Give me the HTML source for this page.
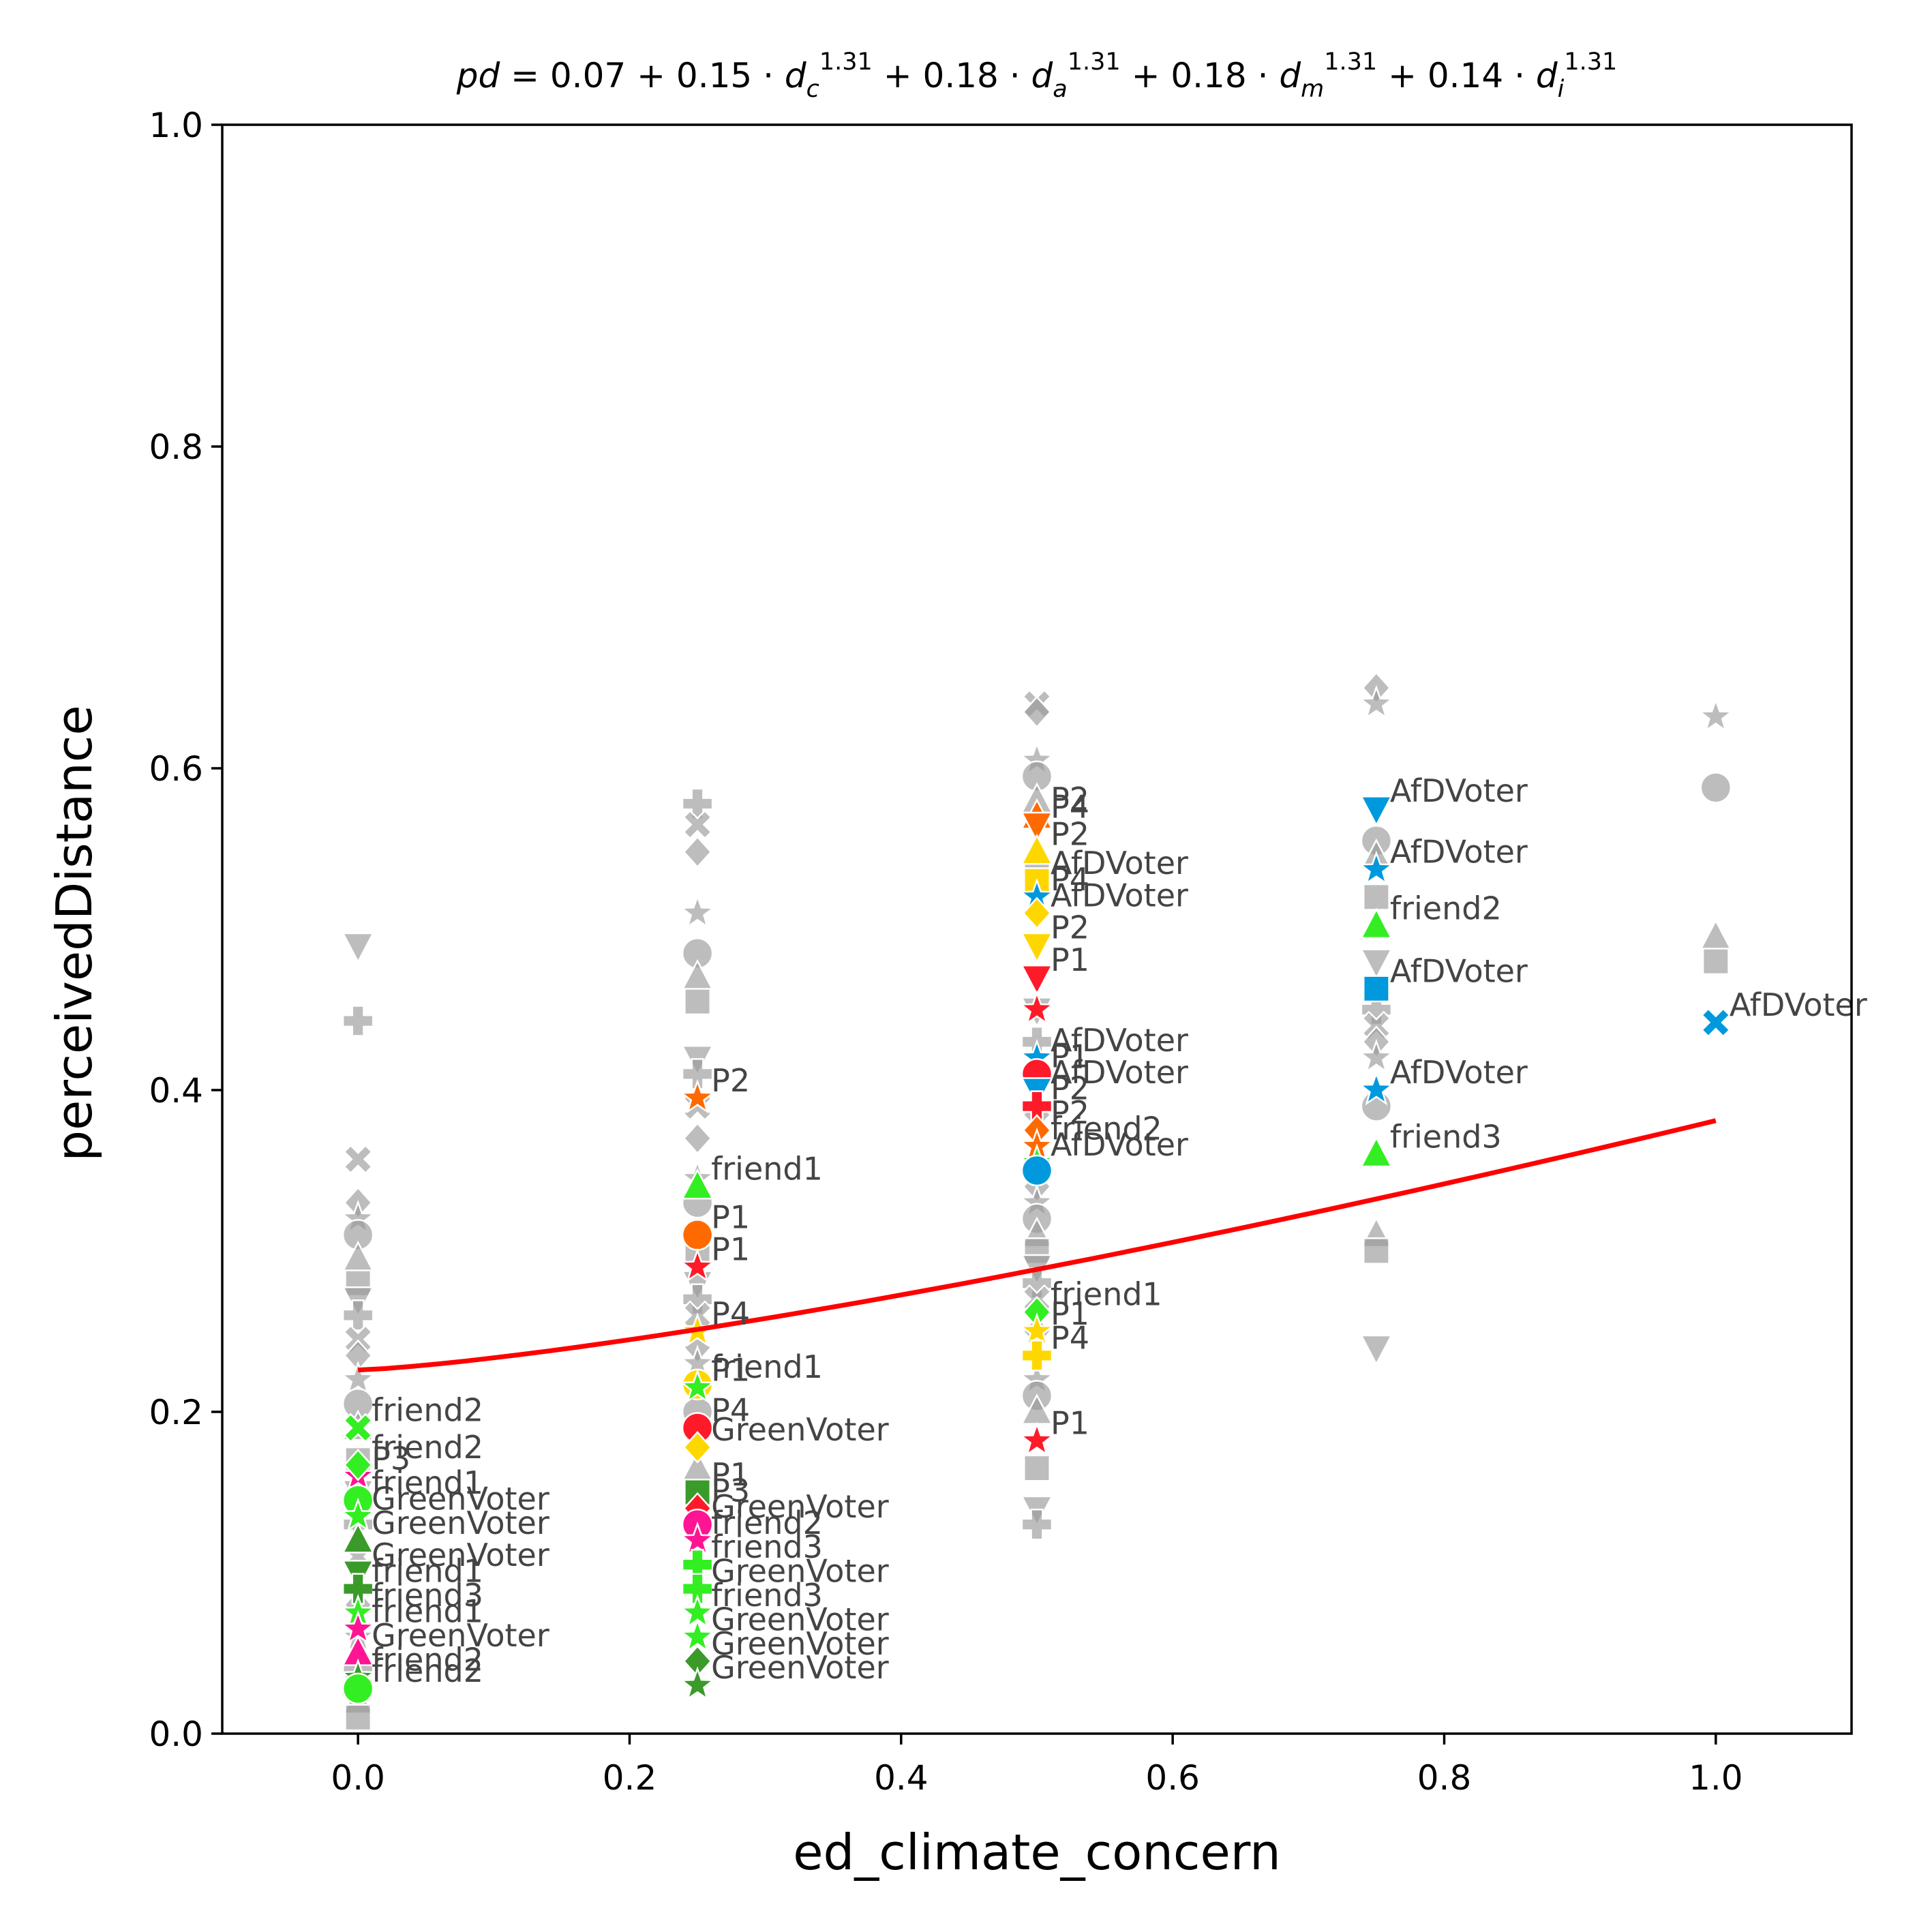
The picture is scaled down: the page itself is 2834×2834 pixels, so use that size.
<!DOCTYPE html>
<html><head><meta charset="utf-8"><style>
html,body{margin:0;padding:0;background:#fff}
svg{display:block;font-family:"DejaVu Sans","Liberation Sans",sans-serif}
</style></head><body>
<svg id="chart" width="2834" height="2834" viewBox="0 0 2834 2834" xmlns="http://www.w3.org/2000/svg">
<rect width="2834" height="2834" fill="#fff"/>
<g id="grayLayer"></g>
<g id="colorLayer"></g>
<g id="lineLayer"></g>
<g id="labelLayer"></g>
<rect x="326" y="183" width="2390" height="2360" fill="none" stroke="#000" stroke-width="3.5"/>
<g id="axisLayer"></g>
<text x="1521" y="128" font-size="50" text-anchor="middle"><tspan font-style="italic">pd</tspan> = 0.07 + 0.15 · <tspan font-style="italic">d</tspan><tspan font-size="35" dy="14" font-style="italic">c</tspan><tspan font-size="35" dy="-40">1.31</tspan><tspan dy="26"> + 0.18 · </tspan><tspan font-style="italic">d</tspan><tspan font-size="35" dy="14" font-style="italic">a</tspan><tspan font-size="35" dy="-40">1.31</tspan><tspan dy="26"> + 0.18 · </tspan><tspan font-style="italic">d</tspan><tspan font-size="35" dy="14" font-style="italic">m</tspan><tspan font-size="35" dy="-40">1.31</tspan><tspan dy="26"> + 0.14 · </tspan><tspan font-style="italic">d</tspan><tspan font-size="35" dy="14" font-style="italic">i</tspan><tspan font-size="35" dy="-40">1.31</tspan></text>
<text x="1521" y="2742" font-size="72" text-anchor="middle">ed_climate_concern</text>
<text x="0" y="0" font-size="72" text-anchor="middle" transform="translate(134,1369) rotate(-90)">perceivedDistance</text>
</svg>
<script>
const xTicks=[0.0,0.2,0.4,0.6,0.8,1.0];
const yTicks=[0.0,0.2,0.4,0.6,0.8,1.0];
const grayX0=[0.49,0.443,0.357,0.33,0.32,0.31,0.295,0.28,0.27,0.26,0.245,0.235,0.22,0.205,0.19,0.17,0.15,0.13,0.11,0.08,0.06,0.04,0.02,0.01];
const grayX25=[0.578,0.565,0.548,0.51,0.485,0.47,0.455,0.42,0.41,0.39,0.37,0.345,0.33,0.31,0.3,0.28,0.27,0.26,0.24,0.23,0.2,0.165];
const grayX50=[0.64,0.635,0.605,0.595,0.58,0.535,0.45,0.43,0.38,0.34,0.33,0.32,0.31,0.30,0.29,0.28,0.27,0.25,0.22,0.21,0.2,0.165,0.14,0.13];
const grayX75=[0.65,0.64,0.555,0.545,0.52,0.48,0.45,0.44,0.43,0.42,0.39,0.31,0.30,0.24];
const grayX100=[0.632,0.588,0.495,0.48];
const colX=[0,0,0,0,0,0,0,0,0,0,0,0,0,
0.25,0.25,0.25,0.25,0.25,0.25,0.25,0.25,0.25,0.25,0.25,0.25,0.25,0.25,0.25,0.25,0.25,0.25,0.25,
0.5,0.5,0.5,0.5,0.5,0.5,0.5,0.5,0.5,0.5,0.5,0.5,0.5,0.5,0.5,0.5,0.5,0.5,0.5,0.5,0.5,
0.75,0.75,0.75,0.75,0.75,0.75,1.0];
const colY=[0.19,0.16,0.167,0.145,0.135,0.12,0.10,0.09,0.075,0.065,0.05,0.035,0.028,
0.395,0.34,0.31,0.29,0.25,0.217,0.215,0.19,0.178,0.15,0.14,0.13,0.12,0.105,0.09,0.075,0.06,0.045,0.03,
0.57,0.565,0.548,0.53,0.52,0.51,0.49,0.47,0.45,0.42,0.41,0.40,0.39,0.375,0.365,0.355,0.35,0.262,0.25,0.235,0.182,
0.575,0.537,0.502,0.463,0.40,0.36,0.442];
const colC=['#33ee22','#ff1493','#33ee22','#33ee22','#33ee22','#3a9a2a','#3a9a2a','#3a9a2a','#33ee22','#ff1493','#ff1493','#3a9a2a','#33ee22',
'#ff6a00','#33ee22','#ff6a00','#ff1a2a','#ffd700','#ffd700','#33ee22','#ff1a2a','#ffd700','#3a9a2a','#ff1a2a','#ff1493','#ff1493','#33ee22','#33ee22','#33ee22','#33ee22','#3a9a2a','#3a9a2a',
'#ff6a00','#ff6a00','#ffd700','#ffd700','#0099dd','#ffd700','#ffd700','#ff1a2a','#ff1a2a','#0099dd','#ff1a2a','#0099dd','#ff1a2a','#ff6a00','#ff6a00','#33ee22','#0099dd','#33ee22','#ffd700','#ffd700','#ff1a2a',
'#0099dd','#0099dd','#33ee22','#0099dd','#0099dd','#33ee22','#0099dd'];
const colM=['X','*','D','o','*','^','v','P','*','*','^','*','o',
'*','^','o','*','*','o','*','o','D','s','D','o','*','P','P','*','*','D','*',
'^','v','^','s','*','D','v','v','*','*','o','v','P','D','*','*','o','D','*','P','*',
'v','*','^','s','*','^','X'];
const colL=['friend2','P3','friend2','friend1','GreenVoter','GreenVoter','GreenVoter','friend1','friend3','friend1','GreenVoter','friend2','friend2',
'P2','friend1','P1','P1','P4','friend1','P1','P4','GreenVoter','P1','P3','GreenVoter','friend2','friend3','GreenVoter','friend3','GreenVoter','GreenVoter','GreenVoter',
'P2','P4','P2','AfDVoter','P4','AfDVoter','P2','P1','','AfDVoter','P1','AfDVoter','P2','P2','friend2','AfDVoter','','friend1','P1','P4','P1',
'AfDVoter','AfDVoter','friend2','AfDVoter','AfDVoter','friend3','AfDVoter'];
const fitA=0.226, fitB=0.155, fitP=1.31;

const NS='http://www.w3.org/2000/svg';
const X0=326,X1=2716,Y0=2543,Y1=183;
function sx(v){return X0+(v+0.1)/1.2*(X1-X0);}
function sy(v){return Y0-v*(Y0-Y1);}
function mk(t,a){const e=document.createElementNS(NS,t);for(const k in a)e.setAttribute(k,a[k]);return e;}
function shape(m,x,y,r){
  if(m==='o')return mk('circle',{cx:x,cy:y,r:r});
  if(m==='s')return mk('rect',{x:x-r*0.85,y:y-r*0.85,width:r*1.7,height:r*1.7});
  let p=[];
  if(m==='^')p=[[0,-1.1],[1,0.8],[-1,0.8]];
  else if(m==='v')p=[[0,1.1],[1,-0.8],[-1,-0.8]];
  else if(m==='D')p=[[0,-1],[0.9,0],[0,1],[-0.9,0]];
  else if(m==='*'){for(let i=0;i<10;i++){const a=-Math.PI/2+i*Math.PI/5,rr=i%2?0.45:1.1;p.push([rr*Math.cos(a),rr*Math.sin(a)]);}}
  else if(m==='P'){const w=0.38;p=[[-w,-1],[w,-1],[w,-w],[1,-w],[1,w],[w,w],[w,1],[-w,1],[-w,w],[-1,w],[-1,-w],[-w,-w]];}
  else if(m==='X'){const w=0.3;for(let i=0;i<4;i++){const a=i*Math.PI/2+Math.PI/4;const c=Math.cos(a),s=Math.sin(a);const pts=[[1,-w],[1,w]];pts.forEach(q=>p.push([q[0]*c-q[1]*s,q[0]*s+q[1]*c]));const b=a+Math.PI/4;p.push([w*1.41*Math.cos(b),w*1.41*Math.sin(b)]);}}
  return mk('polygon',{points:p.map(q=>(x+q[0]*r).toFixed(1)+','+(y+q[1]*r).toFixed(1)).join(' ')});
}
const gm=['v','P','X','D','*','o','^','s'];
const gl=document.getElementById('grayLayer');
[[0,grayX0],[0.25,grayX25],[0.5,grayX50],[0.75,grayX75],[1.0,grayX100]].forEach(([xv,arr])=>{
  arr.forEach((yv,i)=>{
    const s=shape(gm[(i+Math.round(xv*4))%gm.length],sx(xv),sy(yv),22);
    s.setAttribute('fill','#999');s.setAttribute('fill-opacity','0.65');s.setAttribute('stroke','#fff');s.setAttribute('stroke-width','2.5');
    
    
    gl.appendChild(s);
  });
});
const cl=document.getElementById('colorLayer'),ll=document.getElementById('labelLayer');
colX.forEach((xv,i)=>{
  const x=sx(xv),y=sy(colY[i]);
  const s=shape(colM[i],x,y,22);
  s.setAttribute('fill',colC[i]);s.setAttribute('stroke','#fff');s.setAttribute('stroke-width','2.5');
  
  
  cl.appendChild(s);
  if(colL[i]){
    const t=mk('text',{x:x+20,y:y-10,'font-size':'46',fill:'#444'});
    t.textContent=colL[i];
    
    
    ll.appendChild(t);
  }
});
let d='';
for(let k=0;k<=50;k++){const xv=k/50;d+=(k?'L':'M')+sx(xv).toFixed(1)+','+sy(fitA+fitB*Math.pow(xv,fitP)).toFixed(1);}
const fl=mk('path',{d:d,stroke:'#ff0000','stroke-width':'7',fill:'none'});


document.getElementById('lineLayer').appendChild(fl);
const al=document.getElementById('axisLayer');
xTicks.forEach(v=>{
  const x=sx(v);
  const l=mk('line',{x1:x,x2:x,y1:Y0,y2:Y0+16,stroke:'#000','stroke-width':'3.5'});
  
  
  al.appendChild(l);
  const t=mk('text',{x:x,y:Y0+82,'font-size':'50','text-anchor':'middle'});
  t.textContent=v.toFixed(1);
  
  
  al.appendChild(t);
});
yTicks.forEach(v=>{
  const y=sy(v);
  const l=mk('line',{x1:X0-16,x2:X0,y1:y,y2:y,stroke:'#000','stroke-width':'3.5'});
  
  
  al.appendChild(l);
  const t=mk('text',{x:X0-28,y:y+18,'font-size':'50','text-anchor':'end'});
  t.textContent=v.toFixed(1);
  
  
  al.appendChild(t);
});
</script>
</body></html>
